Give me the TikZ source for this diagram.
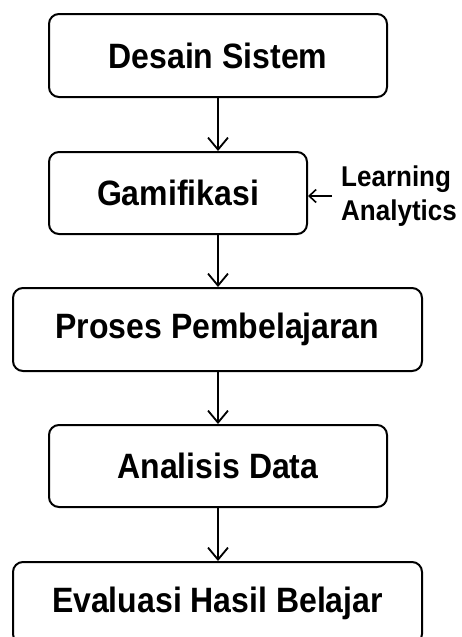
\documentclass[tikz,border=0pt]{standalone}
\usepackage{fontspec}
\usepackage{graphicx}
\setmainfont[Ligatures=NoCommon]{Liberation Sans}
\usetikzlibrary{arrows.meta}
\newcommand{\talltext}[1]{\scalebox{1}[1.1]{#1}}
\tikzset{
  stepbox/.style={draw, line width=2pt, rounded corners=10pt, inner sep=0pt,
    font=\fontsize{32}{36}\selectfont\bfseries, text=black},
  flow/.style={line width=1.8pt, -{Straight Barb[length=12pt,width=20pt,line width=1.8pt]}},
  side/.style={line width=1.6pt, -{Straight Barb[length=7pt,width=13pt,line width=1.6pt]}}
}
\begin{document}
\begin{tikzpicture}[x=1pt,y=-1pt]
\useasboundingbox (0,0) rectangle (461,637);
\clip (0,0) rectangle (461,637);
\fill[white] (0,0) rectangle (461,637);
\node[stepbox, minimum width=338pt, minimum height=83pt] (b1) at (218,55.5) {\talltext{Desain Sistem}};
\node[stepbox, minimum width=258pt, minimum height=82pt] (b2) at (178,193) {\talltext{Gamifikasi}};
\node[stepbox, minimum width=409pt, minimum height=83pt] (b3) at (217.5,329.5) {\talltext{Proses Pembelajaran}};
\node[stepbox, minimum width=338pt, minimum height=82pt] (b4) at (218,466) {\talltext{Analisis Data}};
\node[stepbox, minimum width=409pt, minimum height=82pt] (b5) at (217.5,603) {\talltext{Evaluasi Hasil Belajar}};
\node[anchor=west, align=left, inner sep=0pt, inner xsep=9pt,
  font=\fontsize{26}{34}\selectfont\bfseries] (la) at (332,196) {\talltext{Learning}\\\talltext{Analytics}};
\draw[flow] (b1.south) -- (b1.south |- b2.north);
\draw[flow] (b1.south |- b2.south) -- (b1.south |- b3.north);
\draw[flow] (b1.south |- b3.south) -- (b1.south |- b4.north);
\draw[flow] (b4.south) -- (b4.south |- b5.north);
\draw[side] (la.west) -- (la.west -| b2.east);
\end{tikzpicture}
\end{document}
